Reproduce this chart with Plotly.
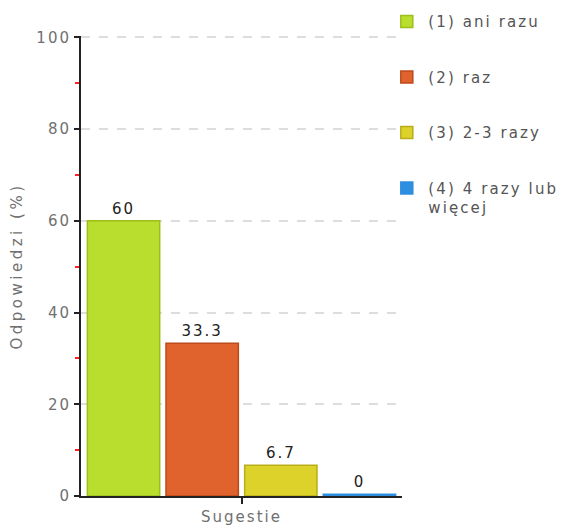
import plotly.graph_objects as go

category = "Sugestie"
series_names = ["(1) ani razu", "(2) raz", "(3) 2-3 razy", "(4) 4 razy lub<br>więcej"]
values = [60, 33.3, 6.7, 0]
fill_colors = ["#b9de2d", "#e0622c", "#ddd22a", "#2e8fe0"]
line_colors = ["#9cbf1c", "#bd4a1a", "#b9ad1a", "#2e8fe0"]
y_ticks = [0, 20, 40, 60, 80, 100]

LS = "letter-spacing:2px"
FONT = "DejaVu Sans, Verdana, sans-serif"


def sp(s, ls=LS):
    return f'<span style="{ls}">{s}</span>'


fig = go.Figure()
for name, v, fc, lc in zip(series_names, values, fill_colors, line_colors):
    shown = max(v, 0.4)  # keep a zero bar visible as a thin line
    fig.add_trace(go.Bar(
        x=[category], y=[shown],
        name=sp(name, "letter-spacing:2.1px"),
        legendgroup=name,
        text=[sp(f"{v:g}")],
        textposition="outside",
        cliponaxis=False,
        textfont=dict(family=FONT, size=15, color="#222222"),
        marker=dict(color=fc, line=dict(color=lc, width=1.5)),
        hoverinfo="skip",
    ))

# the page adds an 8px body margin, so the figure is drawn 8px right/down
fig.update_layout(
    width=560, height=519,
    margin=dict(l=73, r=166, t=28, b=31, autoexpand=False),
    paper_bgcolor="white", plot_bgcolor="white",
    font=dict(family=FONT, size=15, color="#707070"),
    barmode="group", bargap=0.02, bargroupgap=0.08,
    showlegend=True,
    legend=dict(
        x=0.948, xanchor="left", y=1.067, yanchor="top",
        font=dict(family=FONT, size=15, color="#555555"),
        tracegroupgap=33, valign="top", itemwidth=33,
        bgcolor="rgba(0,0,0,0)",
    ),
    xaxis=dict(
        showgrid=False, showline=True, linecolor="#222222", linewidth=2,
        ticks="outside", ticklen=6, tickcolor="#222222", tickwidth=2,
        tickmode="array", tickvals=[category], ticktext=[sp(category)],
        tickfont=dict(family=FONT, size=15, color="#707070"),
        fixedrange=True, automargin=False,
    ),
    yaxis=dict(
        range=[0, 100.3], automargin=False,
        tickmode="array", tickvals=y_ticks, ticktext=[sp(str(t)) for t in y_ticks],
        showline=True, linecolor="#222222", linewidth=2,
        ticks="outside", ticklen=5, tickcolor="#222222", tickwidth=2,
        showgrid=True, gridcolor="#dddddd", griddash="dash", gridwidth=1.5,
        zeroline=False,
        minor=dict(ticks="outside", ticklen=4, tickcolor="#ff2020", tickwidth=2,
                   tickmode="array", tickvals=[10, 30, 50, 70, 90], showgrid=False),
        tickfont=dict(family=FONT, size=15, color="#707070"),
        title=dict(text=sp("Odpowiedzi (%)", "letter-spacing:3.5px"),
                   font=dict(family=FONT, size=15, color="#707070"), standoff=14),
    ),
)

fig.write_html("out.html")
